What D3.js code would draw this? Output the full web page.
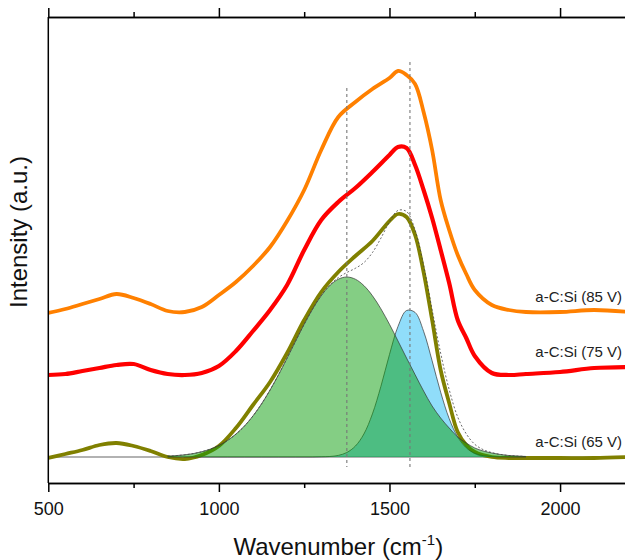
<!DOCTYPE html>
<html>
<head>
<meta charset="utf-8">
<script src="https://cdn.jsdelivr.net/npm/d3@7"></script>
<style>
	body {margin: 0; background: #fff}
	svg {display: block; font-family: Arial, "Liberation Sans", sans-serif}
</style>
</head>
<body>
<svg id="chart" width="625" height="560"></svg>
<script>
// Raman spectra, values (a.u., 0 = fit baseline)
const wavenumber = [500, 550, 600, 650, 700, 750, 800, 850, 900, 950, 1000, 1050, 1100, 1150, 1200, 1250, 1300, 1350, 1400, 1450, 1500, 1525, 1550, 1575, 1600, 1625, 1650, 1675, 1700, 1725, 1750, 1800, 1850, 1900, 2000, 2100, 2200]
const v85 = [1.44, 1.48, 1.53, 1.58, 1.63, 1.59, 1.53, 1.46, 1.45, 1.50, 1.62, 1.75, 1.91, 2.10, 2.36, 2.67, 3.07, 3.40, 3.55, 3.68, 3.79, 3.86, 3.82, 3.73, 3.45, 3.07, 2.57, 2.27, 2.02, 1.83, 1.67, 1.52, 1.47, 1.45, 1.45, 1.47, 1.45]
const v75 = [0.82, 0.83, 0.86, 0.89, 0.92, 0.93, 0.87, 0.83, 0.82, 0.84, 0.91, 1.06, 1.26, 1.47, 1.72, 2.07, 2.37, 2.55, 2.69, 2.85, 3.02, 3.10, 3.09, 2.92, 2.67, 2.39, 2.07, 1.74, 1.37, 1.19, 1.01, 0.84, 0.82, 0.83, 0.85, 0.89, 0.90]
const v65 = [-0.01, 0.03, 0.07, 0.12, 0.14, 0.11, 0.06, 0.00, -0.02, 0.02, 0.11, 0.29, 0.52, 0.75, 1.04, 1.37, 1.65, 1.85, 2.01, 2.16, 2.36, 2.43, 2.40, 2.22, 1.85, 1.37, 0.87, 0.54, 0.25, 0.12, 0.05, 0.00, -0.01, -0.01, -0.01, -0.01, 0.00]

// fitted components of the 65 V spectrum (D and G band)
const fitWn = [850, 875, 900, 925, 950, 975, 1000, 1025, 1050, 1075, 1100, 1125, 1150, 1175, 1200, 1225, 1250, 1275, 1300, 1325, 1350, 1375, 1400, 1425, 1450, 1475, 1500, 1525, 1550, 1575, 1600, 1625, 1650, 1675, 1700, 1725, 1750, 1775, 1800, 1825, 1850, 1875, 1900]
const peakD = [0.008, 0.014, 0.022, 0.034, 0.053, 0.079, 0.115, 0.165, 0.229, 0.310, 0.411, 0.531, 0.670, 0.824, 0.990, 1.160, 1.327, 1.481, 1.613, 1.714, 1.778, 1.800, 1.778, 1.714, 1.613, 1.481, 1.327, 1.160, 0.990, 0.824, 0.66, 0.51, 0.39, 0.29, 0.20, 0.14, 0.09, 0.06, 0.04, 0.025, 0.015, 0.01, 0.005]
const peakG = [0, 0, 0, 0, 0, 0, 0, 0, 0, 0, 0, 0, 0, 0, 0, 0, 0, 0, 0.002, 0.005, 0.016, 0.045, 0.109, 0.230, 0.431, 0.708, 1.025, 1.306, 1.465, 1.446, 1.257, 0.962, 0.648, 0.384, 0.200, 0.092, 0.037, 0.013, 0.004, 0.001, 0, 0, 0]

const peakCentres = [1375, 1560]
const peakMarkTops = [3.69, 3.95]

const seriesNames = ["a-C:Si (85 V)", "a-C:Si (75 V)", "a-C:Si (65 V)"]
const seriesColors = ["#ff8000", "#ff0000", "#808000"]

const xTicks = [500, 1000, 1500, 2000]
const xMinorTicks = [750, 1250, 1750]

const svg = d3.select("#chart")

const x = d3.scaleLinear().domain([500, 2200]).range([48.3, 628.3])
const y = d3.scaleLinear().domain([-0.26, 4.4]).range([483, 17])

svg.append("defs").append("clipPath").attr("id", "plotClip")
	.append("rect").attr("x", 48.3).attr("y", 17).attr("width", 580).attr("height", 466)

const plot = svg.append("g").attr("clip-path", "url(#plotClip)")

//fit baseline
plot.append("line")
	.attr("x1", x(500)).attr("x2", x(2200))
	.attr("y1", y(0)).attr("y2", y(0))
	.attr("stroke", "#999").attr("stroke-width", 1.3)

const spectra = [v85, v75, v65].map((vals, i) => ({
	name: seriesNames[i],
	color: seriesColors[i],
	points: wavenumber.map((w, j) => ({w: w, v: vals[j]})),
}))

const line = d3.line().x(d => x(d.w)).y(d => y(d.v)).curve(d3.curveCatmullRom.alpha(0.5))

plot.selectAll("path.spectrum")
	.data(spectra)
	.join("path")
		.classed("spectrum", true)
		.attr("d", s => line(s.points))
		.attr("fill", "none")
		.attr("stroke", s => s.color)
		.attr("stroke-width", (s, i) => i === 1 ? 4.2 : 3.8)
		.attr("stroke-linejoin", "round")

const components = [
	{vals: peakG, fill: "rgb(33,187,245)"},
	{vals: peakD, fill: "rgb(9,157,9)"},
].map(c => ({...c, points: fitWn.map((w, j) => ({w: w, v: c.vals[j]}))}))

const area = d3.area().x(d => x(d.w)).y0(y(0)).y1(d => y(d.v)).curve(d3.curveCatmullRom)
const fitLine = d3.line().x(d => x(d.w)).y(d => y(d.v)).curve(d3.curveCatmullRom)

components.forEach(c => {
	plot.append("path")
		.attr("d", area(c.points))
		.attr("fill", c.fill)
		.attr("fill-opacity", 0.5)
	plot.append("path")
		.attr("d", fitLine(c.points))
		.attr("fill", "none")
		.attr("stroke", "#333")
		.attr("stroke-width", 0.7)
})

//cumulative fit
const envelope = fitWn.map((w, j) => ({w: w, v: peakD[j] + peakG[j]}))
plot.append("path")
	.attr("d", fitLine(envelope))
	.attr("fill", "none")
	.attr("stroke", "#444")
	.attr("stroke-width", 0.8)
	.attr("stroke-dasharray", "2,2")

//band positions
plot.selectAll("line.bandMark")
	.data(peakCentres)
	.join("line")
		.classed("bandMark", true)
		.attr("x1", d => x(d)).attr("x2", d => x(d))
		.attr("y1", (d, i) => y(peakMarkTops[i]))
		.attr("y2", y(-0.1))
		.attr("stroke", "#777")
		.attr("stroke-width", 1.1)
		.attr("stroke-dasharray", "3,3")

svg.selectAll("text.seriesLabel")
	.data(spectra)
	.join("text")
		.classed("seriesLabel", true)
		.attr("x", 622)
		.attr("y", s => y(s.points[s.points.length - 1].v) - 10)
		.attr("text-anchor", "end")
		.attr("font-size", 15)
		.attr("fill", "#222")
		.text(s => s.name)

// axes
function styleAxis(g) {
	g.select(".domain").attr("stroke", "#000").attr("stroke-width", 1.5)
	g.selectAll(".tick line").attr("stroke", "#000").attr("stroke-width", 1.5)
	g.selectAll(".tick text").attr("font-size", 18).attr("fill", "#111").attr("font-family", null)
}

svg.append("g")
	.attr("transform", "translate(0,483)")
	.call(d3.axisBottom(x).tickValues(xTicks).tickSize(9).tickSizeOuter(0).tickPadding(10).tickFormat(d3.format("d")))
	.call(styleAxis)

svg.append("g")
	.attr("transform", "translate(0,483)")
	.call(d3.axisBottom(x).tickValues(xMinorTicks).tickSize(5).tickSizeOuter(0).tickFormat(""))
	.call(styleAxis)

svg.append("g")
	.attr("transform", "translate(0,17)")
	.call(d3.axisTop(x).tickValues(xTicks).tickSize(9).tickSizeOuter(0).tickFormat(""))
	.call(styleAxis)

svg.append("g")
	.attr("transform", "translate(0,17)")
	.call(d3.axisTop(x).tickValues(xMinorTicks).tickSize(5).tickSizeOuter(0).tickFormat(""))
	.call(styleAxis)

svg.append("line")
	.attr("x1", 48.3).attr("x2", 48.3)
	.attr("y1", 17).attr("y2", 483)
	.attr("stroke", "#000").attr("stroke-width", 1.5)

const xTitle = svg.append("text")
	.attr("x", x(1350)).attr("y", 555)
	.attr("text-anchor", "middle")
	.attr("font-size", 24)
	.attr("fill", "#111")
xTitle.append("tspan").text("Wavenumber (cm")
xTitle.append("tspan").attr("font-size", 15).attr("dy", -10).text("-1")
xTitle.append("tspan").attr("dy", 10).text(")")

svg.append("text")
	.attr("transform", "translate(27,232) rotate(-90)")
	.attr("text-anchor", "middle")
	.attr("font-size", 24)
	.attr("fill", "#111")
	.text("Intensity (a.u.)")
</script>
</body>
</html>
